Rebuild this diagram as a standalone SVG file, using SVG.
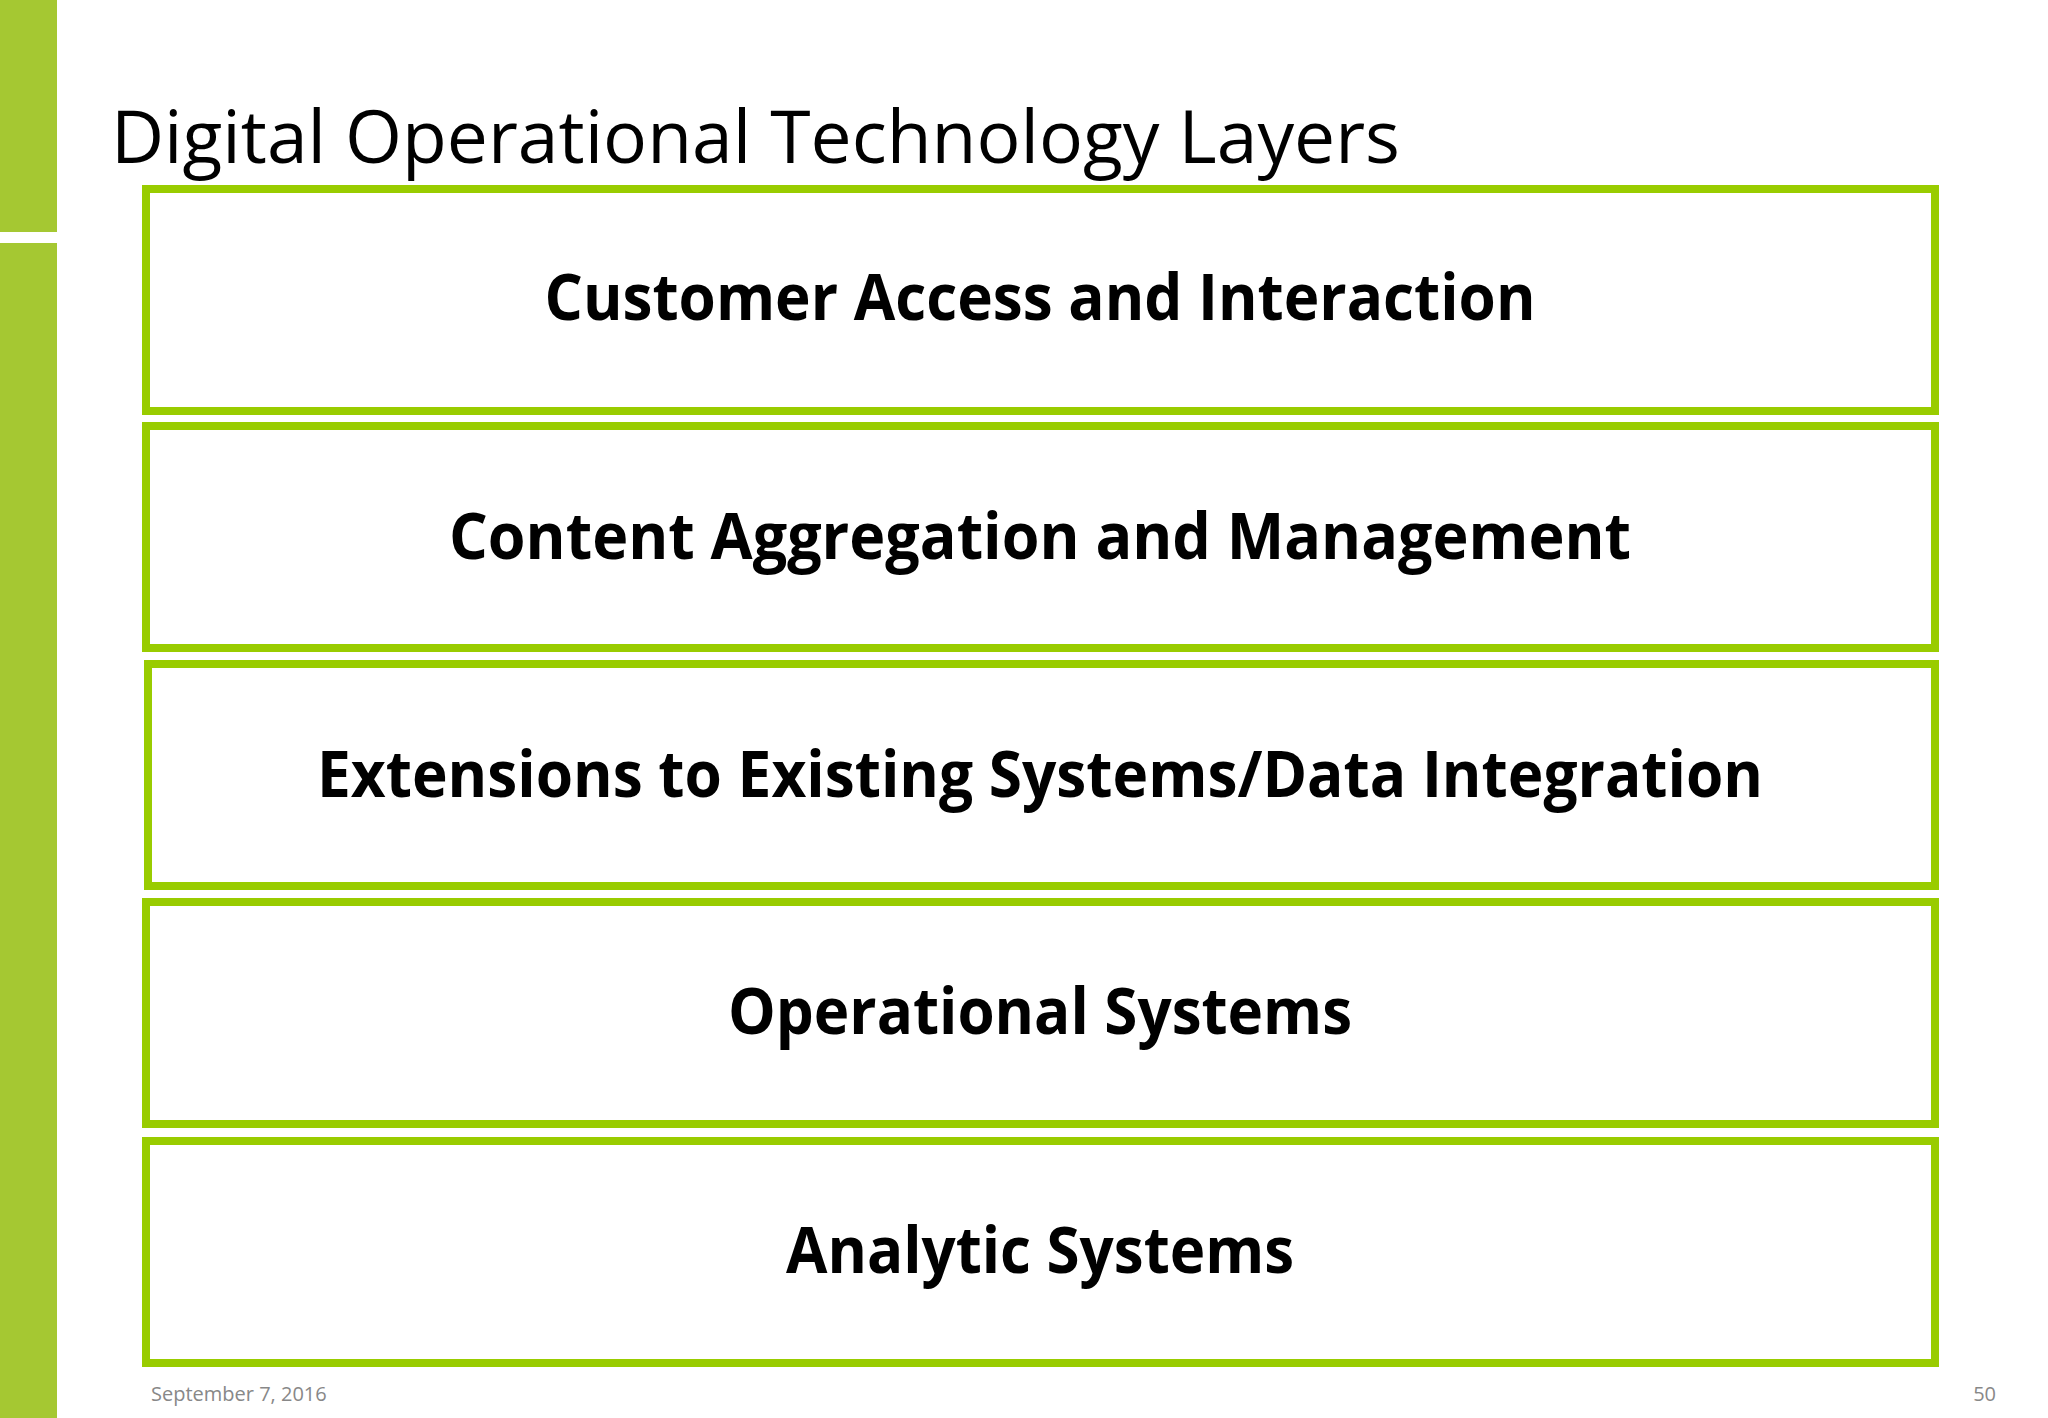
<svg xmlns="http://www.w3.org/2000/svg" width="2048" height="1418" viewBox="0 0 2048 1418">
<style>
.box{fill:#ffffff;stroke:#99CC00;stroke-width:8}
.lbl{font-family:"Open Sans","Liberation Sans",sans-serif;font-weight:bold;font-size:64px;fill:#000;text-anchor:middle}
.ft{font-family:"Open Sans","Liberation Sans",sans-serif;font-size:20px;fill:#888}
</style>
<rect width="2048" height="1418" fill="#fff"/>
<rect x="0" y="0" width="57" height="232" fill="#A5C832"/>
<rect x="0" y="243" width="57" height="1175" fill="#A5C832"/>
<text x="111" y="163" font-family="Open Sans, Liberation Sans, sans-serif" font-size="74" fill="#000" textLength="1289" lengthAdjust="spacingAndGlyphs">Digital Operational Technology Layers</text>
<g id="n1"><rect class="box" x="146" y="189" width="1789" height="222"/><text class="lbl" x="1040" y="320" textLength="991" lengthAdjust="spacingAndGlyphs">Customer Access and Interaction</text></g>
<g id="n2"><rect class="box" x="146" y="426" width="1789" height="222"/><text class="lbl" x="1040" y="559" textLength="1182" lengthAdjust="spacingAndGlyphs">Content Aggregation and Management</text></g>
<g id="n3"><rect class="box" x="148" y="664" width="1787" height="222"/><text class="lbl" x="1040" y="797" textLength="1446" lengthAdjust="spacingAndGlyphs">Extensions to Existing Systems/Data Integration</text></g>
<g id="n4"><rect class="box" x="146" y="902" width="1789" height="222"/><text class="lbl" x="1040" y="1034" textLength="624" lengthAdjust="spacingAndGlyphs">Operational Systems</text></g>
<g id="n5"><rect class="box" x="146" y="1141" width="1789" height="222"/><text class="lbl" x="1040" y="1273" textLength="508" lengthAdjust="spacingAndGlyphs">Analytic Systems</text></g>
<g id="connectors"/>
<text class="ft" x="151" y="1401">September 7, 2016</text>
<text class="ft" x="1996" y="1401" text-anchor="end">50</text>
</svg>
